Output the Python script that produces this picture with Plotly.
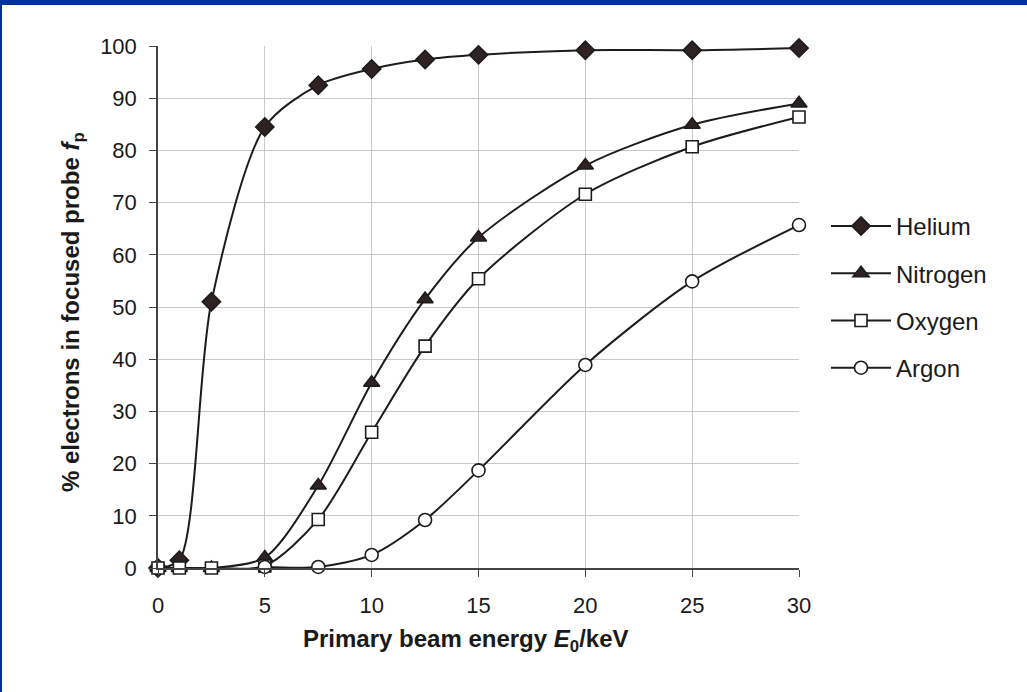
import plotly.graph_objects as go

# Primary beam energy (keV) and fraction of electrons kept in the focused probe (%)
energy = [0, 1, 2.5, 5, 7.5, 10, 12.5, 15, 20, 25, 30]
helium = [0, 1.5, 51, 84.5, 92.5, 95.6, 97.4, 98.3, 99.2, 99.2, 99.6]
nitrogen = [0, 0, 0, 2, 15.8, 35.5, 51.5, 63.3, 77.1, 84.9, 89]
oxygen = [0, 0, 0, 0.4, 9.3, 26, 42.5, 55.4, 71.6, 80.7, 86.4]
argon_energy = [5, 7.5, 10, 12.5, 15, 20, 25, 30]
argon = [0.2, 0.2, 2.5, 9.2, 18.7, 38.9, 54.9, 65.7]

x_ticks = [0, 5, 10, 15, 20, 25, 30]
y_ticks = [0, 10, 20, 30, 40, 50, 60, 70, 80, 90, 100]

W, H = 1027, 692
L, R, T, B = 158, 228, 46, 124
pw, ph = W - L - R, H - T - B

LINE = "#1c1c1c"
DARK = "#2e2222"
FONT = "Liberation Sans, Arial, sans-serif"

series = [
    ("Helium", energy, helium, "diamond", 14, DARK),
    ("Nitrogen", energy, nitrogen, "triangle-up", 14, DARK),
    ("Oxygen", energy, oxygen, "square", 12, "white"),
    ("Argon", argon_energy, argon, "circle", 13, "white"),
]

fig = go.Figure()
for name, xs, ys, sym, size, fill in series:
    fig.add_trace(go.Scatter(
        x=xs, y=ys, name=name, legendgroup=name,
        mode="lines+markers",
        line=dict(color=LINE, width=2, shape="spline", smoothing=0.8),
        marker=dict(symbol=sym, size=size, color=fill,
                    line=dict(color=LINE, width=1.6)),
        cliponaxis=False,
    ))

def px_x(p):
    return (p - L) / pw

def px_y(p):
    return (H - B - p) / ph

shapes = [
    # frame band along the top and left edges of the page
    dict(type="rect", xref="paper", yref="paper",
         x0=px_x(0), x1=px_x(W), y0=px_y(5), y1=px_y(0),
         fillcolor="#003399", line=dict(width=0), layer="above"),
    dict(type="rect", xref="paper", yref="paper",
         x0=px_x(0), x1=px_x(2), y0=px_y(H), y1=px_y(0),
         fillcolor="#003399", line=dict(width=0), layer="above"),
]

annotations = [
    dict(text="<b>Primary beam energy <i>E</i><sub>0</sub>/keV</b>",
         xref="paper", yref="paper", x=px_x(466), y=px_y(640),
         xanchor="center", yanchor="middle", showarrow=False,
         font=dict(family=FONT, size=24, color="#1a1a1a")),
    dict(text="<b>% electrons in focused probe <i>f</i><sub>p</sub></b>",
         xref="paper", yref="paper", x=px_x(72), y=px_y(312),
         xanchor="center", yanchor="middle", showarrow=False, textangle=-90,
         font=dict(family=FONT, size=24, color="#1a1a1a")),
]

fig.update_layout(
    width=W, height=H,
    margin=dict(l=L, r=R, t=T, b=B),
    paper_bgcolor="white", plot_bgcolor="white",
    font=dict(family=FONT, size=22, color="#1a1a1a"),
    showlegend=True,
    legend=dict(x=px_x(826), y=px_y(297), xanchor="left", yanchor="middle",
                tracegroupgap=13, itemwidth=60,
                font=dict(family=FONT, size=24, color="#1a1a1a"),
                bgcolor="rgba(0,0,0,0)"),
    shapes=shapes,
    annotations=annotations,
    xaxis=dict(range=[0, 30], tickvals=x_ticks, ticktext=[str(v) for v in x_ticks],
               showgrid=True, gridcolor="#c9c9c9", gridwidth=1,
               showline=True, linecolor="#444444", linewidth=1.5,
               ticks="outside", ticklen=7, tickcolor="#444444",
               ticklabelstandoff=10, zeroline=False),
    yaxis=dict(range=[0, 100], tickvals=y_ticks, ticktext=[str(v) for v in y_ticks],
               showgrid=True, gridcolor="#c9c9c9", gridwidth=1,
               showline=True, linecolor="#444444", linewidth=1.5,
               ticks="outside", ticklen=7, tickcolor="#444444",
               ticklabelstandoff=8, zeroline=False),
)

fig.write_html("out.html")
